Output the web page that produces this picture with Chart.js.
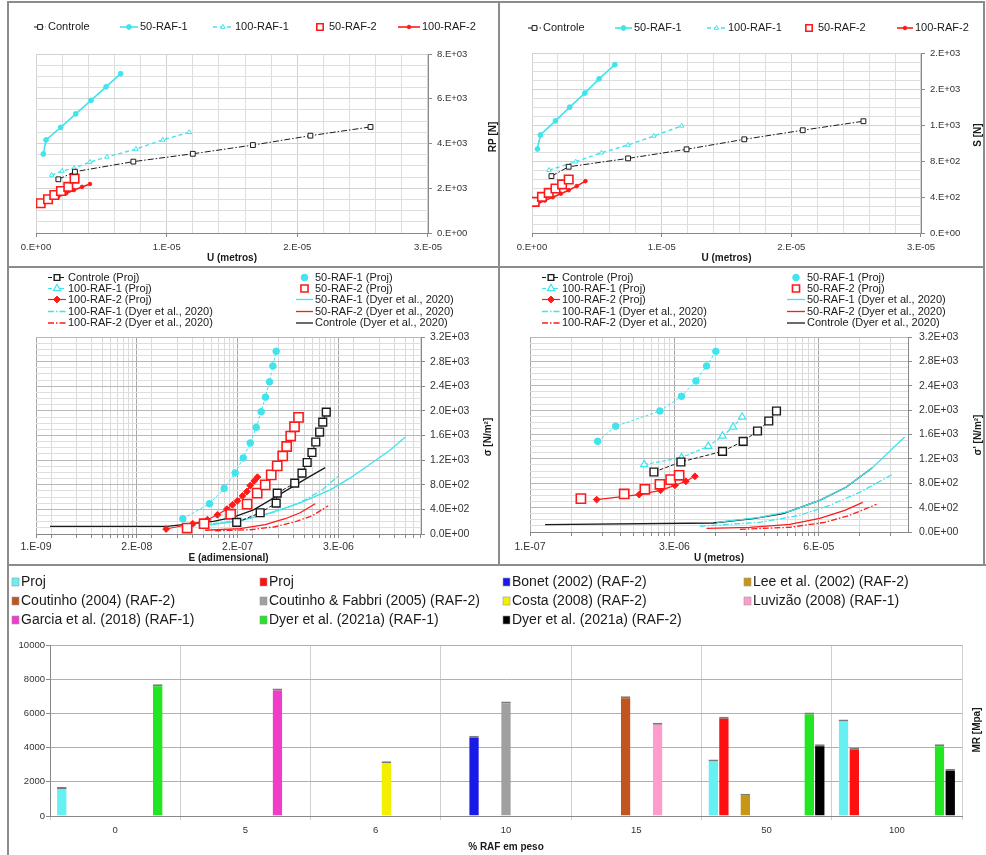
<!DOCTYPE html>
<html>
<head>
<meta charset="utf-8">
<script src="https://cdn.jsdelivr.net/npm/chart.js@4.4.1/dist/chart.umd.min.js"></script>
<style>
  html, body { margin: 0; padding: 0; background: #fff; }
  body { width: 986px; height: 855px; position: relative; overflow: hidden; font-family: 'Liberation Sans', Arial, sans-serif; }
  .panel { position: absolute; }
  .panel canvas { position: absolute; left: 0; top: 0; }
  .frame { position: absolute; background: #8c8c8c; }
</style>
</head>
<body>
<div class="panel" style="left:9px;top:3px;width:489px;height:264px"><canvas id="c1" width="489" height="264"></canvas></div>
<div class="panel" style="left:500px;top:3px;width:484px;height:264px"><canvas id="c2" width="484" height="264"></canvas></div>
<div class="panel" style="left:9px;top:268px;width:489px;height:296px"><canvas id="c3" width="489" height="296"></canvas></div>
<div class="panel" style="left:500px;top:268px;width:484px;height:296px"><canvas id="c4" width="484" height="296"></canvas></div>
<div class="panel" style="left:9px;top:566px;width:977px;height:289px"><canvas id="c5" width="977" height="289"></canvas></div>

<!-- frame lines -->
<div class="frame" style="left:7px;top:1px;width:978px;height:2px"></div>
<div class="frame" style="left:7px;top:1px;width:2px;height:854px"></div>
<div class="frame" style="left:983px;top:1px;width:2px;height:565px"></div>
<div class="frame" style="left:498px;top:1px;width:2px;height:565px"></div>
<div class="frame" style="left:7px;top:266px;width:978px;height:2px"></div>
<div class="frame" style="left:7px;top:564px;width:979px;height:2px"></div>

<script>
// ---- top panels: U (m) x force ----
// [U, value]
const tlControle = [[1.71e-6, 2400], [2.98e-6, 2740], [7.45e-6, 3190], [1.20e-5, 3540], [1.66e-5, 3930], [2.10e-5, 4350], [2.56e-5, 4740]];
const tl50raf1 = [[0.56e-6, 3530], [0.77e-6, 4160], [1.89e-6, 4720], [3.04e-6, 5320], [4.21e-6, 5930], [5.36e-6, 6530], [6.48e-6, 7120]];
const tl100raf1 = [[1.2e-6, 2590], [1.99e-6, 2770], [2.91e-6, 2900], [4.13e-6, 3170], [5.43e-6, 3400], [7.65e-6, 3750], [9.70e-6, 4160], [1.173e-5, 4500]];
const tl50raf2 = [[0.36e-6, 1330], [0.92e-6, 1510], [1.40e-6, 1700], [1.91e-6, 1880], [2.47e-6, 2060], [2.95e-6, 2430]];
const tl100raf2 = [[0.46e-6, 1300], [1.07e-6, 1450], [1.68e-6, 1610], [2.30e-6, 1770], [2.91e-6, 1920], [3.52e-6, 2060], [4.13e-6, 2190]];

const trControle = [[1.5e-6, 632], [2.83e-6, 736], [7.41e-6, 829], [1.192e-5, 930], [1.637e-5, 1041], [2.088e-5, 1142], [2.556e-5, 1242]];
const tr50raf1 = [[0.42e-6, 933], [0.65e-6, 1089], [1.81e-6, 1245], [2.91e-6, 1398], [4.07e-6, 1554], [5.17e-6, 1713], [6.39e-6, 1870]];
const tr100raf1 = [[1.31e-6, 699], [3.37e-6, 792], [5.36e-6, 892], [7.41e-6, 978], [9.40e-6, 1078], [1.154e-5, 1190]];
const tr50raf2 = [[0.21e-6, 346], [0.77e-6, 401], [1.29e-6, 446], [1.81e-6, 495], [2.32e-6, 540], [2.83e-6, 595]];
const tr100raf2 = [[0.36e-6, 320], [0.98e-6, 361], [1.6e-6, 398], [2.22e-6, 437], [2.83e-6, 476], [3.45e-6, 521], [4.12e-6, 576]];

// ---- middle left: E x sigma ----
const mlControleProj = [[2.20e-7, 188], [4.13e-7, 345], [6.35e-7, 502], [6.53e-7, 664], [1.045e-6, 826], [1.27e-6, 988], [1.46e-6, 1162], [1.66e-6, 1324], [1.84e-6, 1494], [2.04e-6, 1656], [2.22e-6, 1818], [2.44e-6, 1980]];
const ml50raf1Proj = [[5.17e-8, 248], [1.057e-7, 491], [1.57e-7, 741], [2.11e-7, 992], [2.62e-7, 1235], [3.16e-7, 1478], [3.71e-7, 1732], [4.24e-7, 1985], [4.76e-7, 2223], [5.31e-7, 2471], [5.81e-7, 2730], [6.35e-7, 2968]];
const ml100raf1Proj = [];
const ml50raf2Proj = [[5.8e-8, 97], [9.16e-8, 167], [1.87e-7, 321], [2.91e-7, 486], [3.81e-7, 664], [4.73e-7, 798], [5.56e-7, 960], [6.53e-7, 1106], [7.57e-7, 1268], [8.42e-7, 1421], [9.38e-7, 1591], [1.039e-6, 1742], [1.157e-6, 1894]];
const ml100raf2Proj = [[3.3e-8, 81], [6.73e-8, 167], [1.0e-7, 232], [1.31e-7, 312], [1.69e-7, 405], [1.96e-7, 474], [2.24e-7, 539], [2.57e-7, 620], [2.89e-7, 690], [3.16e-7, 787], [3.52e-7, 863], [3.84e-7, 923]];
const ml50raf1Dyer = [[1.077e-7, 150], [2.41e-7, 215], [5.41e-7, 345], [1.211e-6, 507], [2.71e-6, 718], [4.65e-6, 911], [7.96e-6, 1138], [1.363e-5, 1365], [2.04e-5, 1575]];
const ml100raf1Dyer = [[6.29e-8, 126], [1.84e-7, 199], [4.13e-7, 288], [8.09e-7, 410], [1.386e-6, 555], [2.19e-6, 718], [3.37e-6, 944]];
const ml50raf2Dyer = [[9.41e-8, 61], [2.41e-7, 86], [4.73e-7, 151], [8.09e-7, 248], [1.211e-6, 345], [1.81e-6, 491]];
const ml100raf2Dyer = [[1.232e-7, 53], [3.16e-7, 69], [6.18e-7, 118], [1.059e-6, 199], [1.672e-6, 296], [2.57e-6, 458]];
const mlControleDyer = [[1.457e-9, 123], [3.36e-8, 123], [1.177e-7, 204], [2.015e-7, 275], [3.45e-7, 393], [5.9e-7, 583], [9.26e-7, 745], [1.45e-6, 907], [2.37e-6, 1078]];

// ---- middle right: U x sigma ----
const mrControleProj = [[1.584e-6, 985], [2.89e-6, 1149], [7.31e-6, 1324], [1.158e-5, 1488], [1.595e-5, 1657], [2.05e-5, 1822], [2.435e-5, 1986]];
const mr50raf1Proj = [[4.52e-7, 1488], [6.75e-7, 1735], [1.81e-6, 1986], [2.93e-6, 2227], [4.04e-6, 2478], [5.12e-6, 2724], [6.30e-6, 2965]];
const mr100raf1Proj = [[1.275e-6, 1106], [2.93e-6, 1221], [5.31e-6, 1406], [7.31e-6, 1575], [9.26e-6, 1723], [1.132e-5, 1887]];
const mr50raf2Proj = [[3.11e-7, 548], [8.17e-7, 624], [1.295e-6, 701], [1.81e-6, 783], [2.3e-6, 860], [2.78e-6, 930]];
const mr100raf2Proj = [[4.42e-7, 532], [1.141e-6, 614], [1.839e-6, 684], [2.53e-6, 766], [3.23e-6, 832], [3.95e-6, 914]];
const mr50raf1Dyer = [[6.4e-6, 159], [1.679e-5, 241], [3.27e-5, 340], [6.39e-5, 520], [1.158e-4, 738], [2.05e-4, 1050], [3.04e-4, 1324], [4.24e-4, 1559]];
const mr100raf1Dyer = [[4.41e-6, 94], [1.679e-5, 159], [4.09e-5, 274], [7.98e-5, 438], [1.557e-4, 651], [3.25e-4, 947]];
const mr50raf2Dyer = [[5.12e-6, 61], [1.343e-5, 77], [3.27e-5, 126], [6.39e-5, 225], [1.115e-4, 356], [1.665e-4, 487]];
const mr100raf2Dyer = [[1.075e-5, 44], [3.27e-5, 77], [7.14e-5, 159], [1.246e-4, 274], [2.27e-4, 455]];
const mrControleDyer = [[1.4e-7, 121], [5.93e-6, 148], [1.446e-5, 220], [2.82e-5, 302], [6.39e-5, 520], [1.158e-4, 738], [2.05e-4, 1050]];

// ---- bottom: MR per % RAF ----
const rafCats = ['0', '5', '6', '10', '15', '50', '100'];
const mrProjCyan = [1700, null, null, null, null, 3300, 5650];
const mrProjRed = [null, null, null, null, null, 5800, 4000];
const mrBonet = [null, null, null, 4700, null, null, null];
const mrLee = [null, null, null, null, null, 1300, null];
const mrCoutinho = [null, null, null, null, 7000, null, null];
const mrCoutinhoFabbri = [null, null, null, 6700, null, null, null];
const mrCosta = [null, null, 3200, null, null, null, null];
const mrLuvizao = [null, null, null, null, 5450, null, null];
const mrGarcia = [null, 7450, null, null, null, null, null];
const mrDyer1 = [7700, null, null, null, null, 6050, 4200];
const mrDyer2 = [null, null, null, null, null, 4200, 2750];

const FONT = "'Liberation Sans', Arial, sans-serif";
Chart.defaults.font.family = FONT;
Chart.defaults.color = '#333';

const CYAN = '#3fe4ec';
const RED = '#ff1a1a';
const BLK = '#1a1a1a';
const DASHDOT = [6, 2, 1.5, 2];

// excel style "0.E+00" / "0.0E+00"
function expFmt(v, d) {
    if (v === 0) return (d > 0 ? '0.' + '0'.repeat(d) : '0.') + 'E+00';
    let e = Math.floor(Math.log10(Math.abs(v)) + 1e-9);
    let m = Math.round(v / Math.pow(10, e) * 1e6) / 1e6;
    let r = Math.round(m * Math.pow(10, d) + 1e-9) / Math.pow(10, d);
    if (r >= 10) { e += 1; r = r / 10; }
    const mant = d > 0 ? r.toFixed(d) : r.toFixed(0) + '.';
    return mant + 'E' + (e < 0 ? '-' : '+') + String(Math.abs(e)).padStart(2, '0');
}

function drawMarker(ctx, style, r, x, y, fill, stroke, bw) {
    ctx.save();
    ctx.setLineDash([]);
    ctx.beginPath();
    if (style === 'rect') {
        const s = r * Math.SQRT1_2;
        ctx.rect(x - s, y - s, 2 * s, 2 * s);
    } else if (style === 'rectRot') {
        ctx.moveTo(x - r, y); ctx.lineTo(x, y - r); ctx.lineTo(x + r, y); ctx.lineTo(x, y + r); ctx.closePath();
    } else if (style === 'triangle') {
        ctx.moveTo(x, y - r); ctx.lineTo(x + 0.866 * r, y + 0.5 * r); ctx.lineTo(x - 0.866 * r, y + 0.5 * r); ctx.closePath();
    } else {
        ctx.arc(x, y, r, 0, Math.PI * 2);
    }
    ctx.fillStyle = fill; ctx.fill();
    ctx.lineWidth = bw; ctx.strokeStyle = stroke; ctx.stroke();
    ctx.restore();
}

// legend laid out at fixed spots (excel style) + rotated right axis title
const gridLegend = {
    id: 'gridLegend',
    afterDraw(chart, args, opts) {
        const ctx = chart.ctx;
        ctx.save();
        ctx.font = opts.font;
        ctx.textBaseline = 'middle';
        ctx.textAlign = 'left';
        chart.data.datasets.forEach((ds, i) => {
            const p = opts.items[i];
            if (!p) return;
            const [x, y, len] = p;
            if (opts.box) {
                ctx.fillStyle = ds.backgroundColor;
                ctx.fillRect(x, y - 4, 7, 8);
                ctx.strokeStyle = '#999'; ctx.lineWidth = 0.6;
                ctx.strokeRect(x, y - 4, 7, 8);
            } else {
                if (ds.showLine !== false && ds.legendLine !== false) {
                    ctx.beginPath();
                    ctx.strokeStyle = ds.borderColor;
                    ctx.lineWidth = ds.borderWidth;
                    ctx.setLineDash(ds.borderDash || []);
                    ctx.moveTo(x, y); ctx.lineTo(x + len, y);
                    ctx.stroke();
                    ctx.setLineDash([]);
                }
                if (ds.pointRadius > 0) {
                    drawMarker(ctx, ds.pointStyle, ds.legendRadius || ds.pointRadius, x + len / 2, y,
                        ds.pointBackgroundColor, ds.pointBorderColor, ds.pointBorderWidth || 1);
                }
            }
            ctx.fillStyle = '#1a1a1a';
            ctx.fillText(ds.label, x + len + 2, y);
        });
        if (opts.yTitle) {
            const t = opts.yTitle;
            ctx.translate(t.x, t.y);
            ctx.rotate(-Math.PI / 2);
            ctx.textAlign = 'center';
            ctx.font = 'bold 10px ' + FONT;
            ctx.fillStyle = '#1a1a1a';
            ctx.fillText(t.text, 0, 0);
        }
        ctx.restore();
    }
};

function series(label, pts, st) {
    return Object.assign({
        label,
        data: pts.map(p => ({ x: p[0], y: p[1] })),
        showLine: true,
        borderWidth: 1.2,
        pointBorderWidth: 1,
        pointRadius: 0,
        pointHoverRadius: 0,
        tension: 0
    }, st);
}

function linAxis(o) {
    const isMaj = v => Math.abs(v / o.major - Math.round(v / o.major)) < 1e-6;
    const ax = {
        type: 'linear', position: o.position, min: o.min, max: o.max,
        afterBuildTicks: s => {
            const t = [];
            const n = Math.round((o.max - o.min) / o.step);
            for (let i = 0; i <= n; i++) t.push({ value: o.min + i * o.step });
            s.ticks = t;
        },
        ticks: { autoSkip: false, maxRotation: 0, font: { size: o.fs }, color: '#333', padding: o.pad,
            callback: v => isMaj(v) ? expFmt(v, o.digits) : '' },
        grid: {
            color: c => (c.tick && isMaj(c.tick.value)) ? o.majColor : o.minColor,
            tickLength: 4,
            tickColor: c => (c.tick && isMaj(c.tick.value)) ? '#888' : 'rgba(0,0,0,0)'
        },
        border: { color: '#888', width: 1 },
        afterFit: s => { if (o.position === 'bottom') s.height = o.size; else s.width = o.size; }
    };
    if (o.title) ax.title = { display: true, text: o.title, font: { size: 10, weight: 'bold' }, color: '#1a1a1a', padding: { top: 0, bottom: o.titlePad } };
    return ax;
}

function logAxis(o) {
    const max = o.min * Math.pow(o.base, o.decades);
    const lb = v => Math.log(v / o.min) / Math.log(o.base);
    const isMaj = v => Math.abs(lb(v) - Math.round(lb(v))) < 1e-6;
    return {
        type: 'logarithmic', position: 'bottom', min: o.min, max: max,
        afterBuildTicks: s => {
            const t = [];
            for (let n = 0; n <= Math.ceil(o.decades); n++) {
                const m = o.min * Math.pow(o.base, n);
                if (m <= max) t.push({ value: m });
                for (let k = 1; k <= 9; k++) {
                    const v = m * k * o.base / 10;
                    if (v < max) t.push({ value: v });
                }
            }
            s.ticks = t;
        },
        ticks: { autoSkip: false, maxRotation: 0, font: { size: o.fs }, color: '#333', padding: o.pad,
            callback: v => isMaj(v) ? expFmt(v, 0) : '' },
        grid: {
            color: c => (c.tick && isMaj(c.tick.value)) ? '#a8a8a8' : '#dadada',
            tickLength: 4, tickColor: '#888'
        },
        border: { color: '#888', width: 1 },
        title: { display: true, text: o.title, font: { size: 10, weight: 'bold' }, color: '#1a1a1a', padding: { top: 0, bottom: o.titlePad } },
        afterFit: s => { s.height = o.size; }
    };
}

function lineChart(id, datasets, scales, pad, legend) {
    return new Chart(document.getElementById(id).getContext('2d'), {
        type: 'scatter',
        data: { datasets },
        options: {
            responsive: false, animation: false, events: [],
            layout: { padding: pad },
            plugins: { legend: { display: false }, tooltip: { enabled: false }, gridLegend: legend },
            scales
        },
        plugins: [gridLegend]
    });
}

// styles for the top panels
function topSets(c, r1, r1b, r2, r2b) {
    return [
        series('Controle', c, { borderColor: BLK, borderDash: DASHDOT, borderWidth: 1, pointStyle: 'rect', pointRadius: 3.4, pointBackgroundColor: '#fff', pointBorderColor: BLK }),
        series('50-RAF-1', r1, { borderColor: CYAN, borderWidth: 1.6, pointStyle: 'circle', pointRadius: 2.4, pointBackgroundColor: CYAN, pointBorderColor: CYAN }),
        series('100-RAF-1', r1b, { borderColor: CYAN, borderDash: [4, 3], borderWidth: 1.4, pointStyle: 'triangle', pointRadius: 2.6, pointBackgroundColor: '#fff', pointBorderColor: CYAN }),
        series('50-RAF-2', r2, { showLine: false, borderColor: RED, pointStyle: 'rect', pointRadius: 6, pointBackgroundColor: '#fff', pointBorderColor: RED, pointBorderWidth: 1.6, legendRadius: 4.5 }),
        series('100-RAF-2', r2b, { borderColor: RED, borderWidth: 1.6, pointStyle: 'circle', pointRadius: 1.8, pointBackgroundColor: RED, pointBorderColor: RED })
    ];
}

function midSets(cp, r1p, r1bp, r2p, r2bp, r1d, r1bd, r2d, r2bd, cd) {
    return [
        series('Controle (Proj)', cp, { borderColor: BLK, borderDash: [4, 2], borderWidth: 1, pointStyle: 'rect', pointRadius: 5.5, pointBackgroundColor: '#fff', pointBorderColor: BLK, pointBorderWidth: 1.4, legendRadius: 4 }),
        series('50-RAF-1 (Proj)', r1p, { borderColor: CYAN, borderDash: [3, 2], borderWidth: 1, pointStyle: 'circle', pointRadius: 3.3, pointBackgroundColor: CYAN, pointBorderColor: CYAN, legendLine: false }),
        series('100-RAF-1 (Proj)', r1bp, { borderColor: CYAN, borderDash: [4, 2], borderWidth: 1.2, pointStyle: 'triangle', pointRadius: 4.2, pointBackgroundColor: '#fff', pointBorderColor: CYAN, pointBorderWidth: 1.2 }),
        series('50-RAF-2 (Proj)', r2p, { showLine: false, borderColor: RED, pointStyle: 'rect', pointRadius: 6.5, pointBackgroundColor: '#fff', pointBorderColor: RED, pointBorderWidth: 1.6, legendRadius: 5 }),
        series('100-RAF-2 (Proj)', r2bp, { borderColor: RED, borderWidth: 1.2, pointStyle: 'rectRot', pointRadius: 3.4, pointBackgroundColor: RED, pointBorderColor: RED }),
        series('50-RAF-1 (Dyer et al., 2020)', r1d, { borderColor: CYAN, borderWidth: 1.3 }),
        series('100-RAF-1 (Dyer et al., 2020)', r1bd, { borderColor: CYAN, borderDash: DASHDOT, borderWidth: 1.3 }),
        series('50-RAF-2 (Dyer et al., 2020)', r2d, { borderColor: RED, borderWidth: 1.3 }),
        series('100-RAF-2 (Dyer et al., 2020)', r2bd, { borderColor: RED, borderDash: DASHDOT, borderWidth: 1.3 }),
        series('Controle (Dyer et al., 2020)', cd, { borderColor: BLK, borderWidth: 1.3 })
    ];
}

const LEG_FONT = '11px ' + FONT;

// top left
lineChart('c1', topSets(tlControle, tl50raf1, tl100raf1, tl50raf2, tl100raf2), {
    x: linAxis({ position: 'bottom', min: 0, max: 3e-5, step: 2e-6, major: 1e-5, digits: 0, fs: 9.5, pad: 5, size: 34,
        majColor: '#d2d2d2', minColor: '#dedede', title: 'U (metros)', titlePad: 3 }),
    y: linAxis({ position: 'right', min: 0, max: 8000, step: 500, major: 2000, digits: 0, fs: 9.5, pad: 5, size: 70,
        majColor: '#d2d2d2', minColor: '#dedede' })
}, { left: 27, top: 51, right: 0, bottom: 0 }, {
    font: LEG_FONT,
    items: [[25, 24, 12], [111, 24, 18], [204, 24, 20], [304, 24, 14], [389, 24, 22]],
    yTitle: { text: 'RP [N]', x: 484, y: 134 }
});

// top right
lineChart('c2', topSets(trControle, tr50raf1, tr100raf1, tr50raf2, tr100raf2), {
    x: linAxis({ position: 'bottom', min: 0, max: 3e-5, step: 2e-6, major: 1e-5, digits: 0, fs: 9.5, pad: 5, size: 34,
        majColor: '#d2d2d2', minColor: '#dedede', title: 'U (metros)', titlePad: 3 }),
    y: linAxis({ position: 'right', min: 0, max: 2000, step: 100, major: 400, digits: 0, fs: 9.5, pad: 5, size: 63,
        majColor: '#d2d2d2', minColor: '#dedede' })
}, { left: 32, top: 50, right: 0, bottom: 0 }, {
    font: LEG_FONT,
    items: [[28, 25, 13], [115, 25, 17], [207, 25, 19], [302, 25, 14], [397, 25, 16]],
    yTitle: { text: 'S [N]', x: 478, y: 132 }
});

const midItemsL = [[39, 9.5, 18], [287, 9.5, 17], [39, 20.5, 18], [287, 20.5, 17], [39, 31.5, 18], [287, 31.5, 17], [39, 43.5, 18], [287, 43.5, 17], [39, 55, 18], [287, 55, 17]];
const midItemsR = [[42, 9.5, 18], [287, 9.5, 18], [42, 20.5, 18], [287, 20.5, 18], [42, 31.5, 18], [287, 31.5, 18], [42, 43.5, 18], [287, 43.5, 18], [42, 55, 18], [287, 55, 18]];

// middle left (log base 15)
lineChart('c3', midSets(mlControleProj, ml50raf1Proj, ml100raf1Proj, ml50raf2Proj, ml100raf2Proj,
    ml50raf1Dyer, ml100raf1Dyer, ml50raf2Dyer, ml100raf2Dyer, mlControleDyer), {
    x: logAxis({ min: 1e-9, base: 15, decades: 3.82, fs: 10.5, pad: 3, size: 30, title: 'E (adimensional)', titlePad: 0 }),
    y: linAxis({ position: 'right', min: 0, max: 3200, step: 100, major: 400, digits: 1, fs: 10.5, pad: 5, size: 77,
        majColor: '#b8b8b8', minColor: '#dedede' })
}, { left: 27, top: 69, right: 0, bottom: 0 }, {
    font: LEG_FONT, items: midItemsL,
    yTitle: { text: 'σ [N/m²]', x: 479, y: 169 }
});

// middle right (log base 25)
lineChart('c4', midSets(mrControleProj, mr50raf1Proj, mr100raf1Proj, mr50raf2Proj, mr100raf2Proj,
    mr50raf1Dyer, mr100raf1Dyer, mr50raf2Dyer, mr100raf2Dyer, mrControleDyer), {
    x: logAxis({ min: 1e-7, base: 25, decades: 2.618, fs: 10.5, pad: 5, size: 32, title: 'U (metros)', titlePad: 0 }),
    y: linAxis({ position: 'right', min: 0, max: 3200, step: 100, major: 400, digits: 1, fs: 10.5, pad: 7, size: 76,
        majColor: '#b8b8b8', minColor: '#dedede' })
}, { left: 30, top: 69, right: 0, bottom: 0 }, {
    font: LEG_FONT, items: midItemsR,
    yTitle: { text: "σ' [N/m²]", x: 478, y: 167 }
});

// bottom bar chart
function bars(label, data, color) {
    return { label, data, backgroundColor: color, borderColor: '#7a7a7a', borderWidth: { top: 2, left: 0, right: 0, bottom: 0 }, borderSkipped: false };
}
new Chart(document.getElementById('c5').getContext('2d'), {
    type: 'bar',
    data: {
        labels: rafCats,
        datasets: [
            bars('Proj', mrProjCyan, '#66f0f4'),
            bars('Proj', mrProjRed, '#ff1010'),
            bars('Bonet (2002) (RAF-2)', mrBonet, '#1a1ae6'),
            bars('Lee et al. (2002) (RAF-2)', mrLee, '#c89614'),
            bars('Coutinho (2004) (RAF-2)', mrCoutinho, '#c0561e'),
            bars('Coutinho & Fabbri (2005) (RAF-2)', mrCoutinhoFabbri, '#a0a0a0'),
            bars('Costa (2008) (RAF-2)', mrCosta, '#f4ee00'),
            bars('Luvizão (2008) (RAF-1)', mrLuvizao, '#ff9ccc'),
            bars('Garcia et al. (2018) (RAF-1)', mrGarcia, '#f03cc8'),
            bars('Dyer et al. (2021a) (RAF-1)', mrDyer1, '#22e622'),
            bars('Dyer et al. (2021a) (RAF-2)', mrDyer2, '#000000')
        ]
    },
    options: {
        responsive: false, animation: false, events: [],
        categoryPercentage: 0.9, barPercentage: 0.9,
        layout: { padding: { left: 0, top: 79, right: 24, bottom: 0 } },
        plugins: {
            legend: { display: false }, tooltip: { enabled: false },
            gridLegend: {
                font: '14px ' + FONT, box: true,
                items: [[3, 16, 7], [251, 16, 7], [494, 16, 7], [735, 16, 7],
                        [3, 35, 7], [251, 35, 7], [494, 35, 7], [735, 35, 7],
                        [3, 54, 7], [251, 54, 7], [494, 54, 7]],
                yTitle: { text: 'MR [Mpa]', x: 968, y: 164 }
            }
        },
        scales: {
            x: {
                grid: { offset: true, color: '#cfcfcf', tickLength: 4 },
                border: { color: '#888' },
                ticks: { font: { size: 9.5 }, color: '#333', padding: 5 },
                title: { display: true, text: '% RAF em peso', font: { size: 10, weight: 'bold' }, color: '#1a1a1a', padding: { top: 0, bottom: 2 } },
                afterFit: s => { s.height = 39; }
            },
            y: {
                min: 0, max: 10000,
                ticks: { stepSize: 2000, font: { size: 9.5 }, color: '#333', padding: 1, callback: v => String(v) },
                grid: { color: '#b0b0b0', tickLength: 4, tickColor: '#888' },
                border: { color: '#888' },
                afterFit: s => { s.width = 41; }
            }
        }
    },
    plugins: [gridLegend]
});
</script>
</body>
</html>
